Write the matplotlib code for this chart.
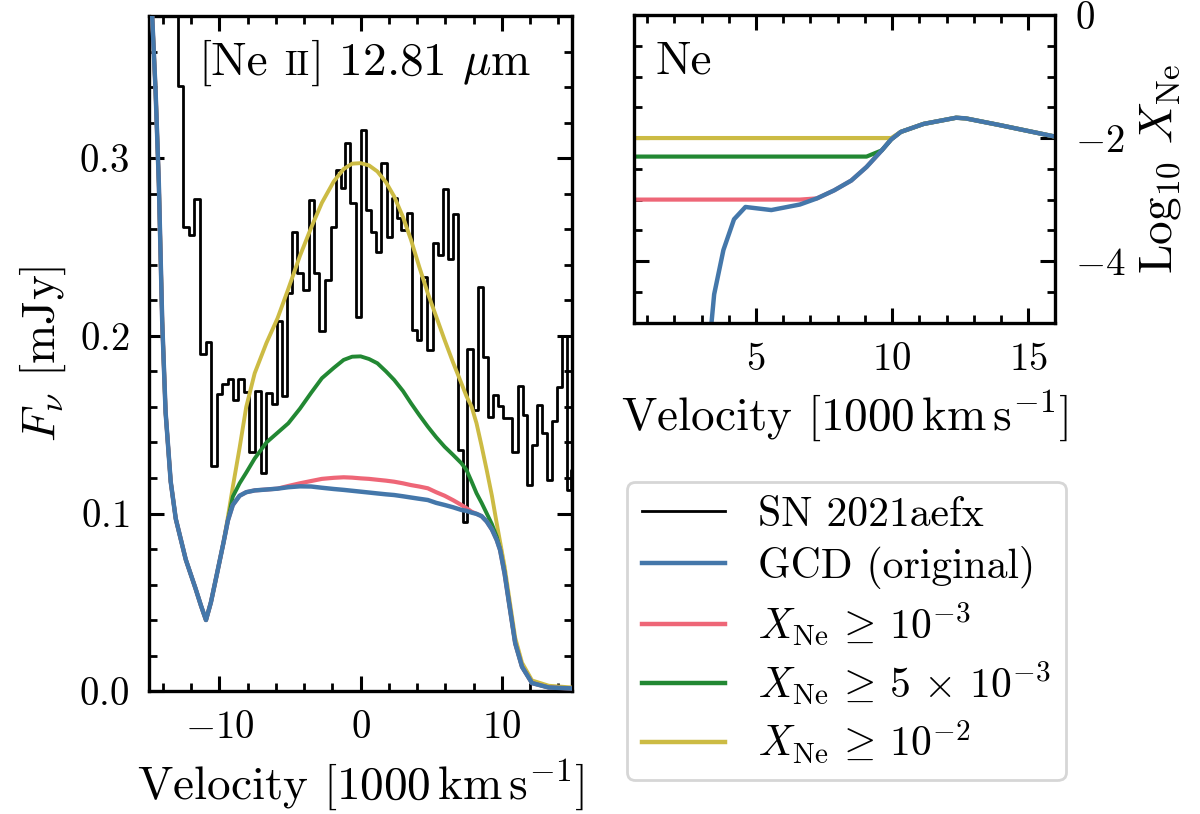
import numpy as np
import matplotlib
matplotlib.use('Agg')
import matplotlib.pyplot as plt
from matplotlib.ticker import MultipleLocator
from matplotlib.lines import Line2D

plt.rcParams.update({
	'font.family': 'serif',
	'font.serif': ['cmr10'],
	'mathtext.fontset': 'cm',
	'axes.formatter.use_mathtext': True,
	'axes.unicode_minus': True,
	'axes.linewidth': 1.2,
	'xtick.direction': 'in', 'ytick.direction': 'in',
	'xtick.top': True, 'ytick.right': True,
	'xtick.major.size': 5.5, 'ytick.major.size': 5.5,
	'xtick.minor.size': 3.0, 'ytick.minor.size': 3.0,
	'xtick.major.width': 1.1, 'ytick.major.width': 1.1,
	'xtick.minor.width': 1.0, 'ytick.minor.width': 1.0,
	'xtick.major.pad': 7, 'ytick.major.pad': 7,
	'xtick.labelsize': 14, 'ytick.labelsize': 14,
	'axes.labelsize': 17,
})

# observed spectrum (bin centres, 1000 km/s) and flux (mJy)
v_obs = [-15.31, -14.94, -14.57, -14.2, -13.83, -13.46, -13.09,
	-12.73, -12.36, -11.99, -11.58, -11.16, -10.76, -10.37, -9.99, -9.61, -9.23,
	-8.87, -8.48, -8.09, -7.69, -7.28, -6.87, -6.49, -6.11, -5.71, -5.38,
	-5.08, -4.69, -4.27, -3.89, -3.48, -3.12, -2.74, -2.29, -1.87, -1.55,
	-1.29, -0.93, -0.54, -0.14, 0.25, 0.57, 0.89, 1.28, 1.67, 2.06,
	2.42, 2.71, 3.07, 3.49, 3.81, 4.11, 4.46, 4.88, 5.32, 5.68,
	6.04, 6.39, 6.73, 7.06, 7.39, 7.75, 8.13, 8.49, 8.85, 9.2,
	9.56, 9.92, 10.23, 10.55, 10.92, 11.31, 11.64, 11.96, 12.32, 12.68,
	13.04, 13.39, 13.75, 14.11, 14.46, 14.79, 15.07, 15.4]
f_obs = [0.50, 0.53, 0.50, 0.44, 0.48, 0.45, 0.42,
	0.3405, 0.2611, 0.2566, 0.2772, 0.1899, 0.1963, 0.1265, 0.1673, 0.1730, 0.1758,
	0.1639, 0.1758, 0.1685, 0.1349, 0.1690, 0.1228, 0.1679, 0.1614, 0.2085, 0.1659,
	0.2241, 0.2583, 0.2355, 0.2259, 0.2766, 0.2355, 0.2028, 0.2315, 0.2614, 0.2935,
	0.2834, 0.3087, 0.2749, 0.2107, 0.3161, 0.2710, 0.2588, 0.2475, 0.2973, 0.2559,
	0.2776, 0.2663, 0.2597, 0.2691, 0.2034, 0.1977, 0.2334, 0.1921, 0.2522, 0.2456,
	0.2826, 0.2432, 0.2687, 0.1358, 0.0954, 0.1925, 0.1583, 0.2274, 0.1883, 0.1545,
	0.1668, 0.1606, 0.1536, 0.1536, 0.1348, 0.1718, 0.1555, 0.1161, 0.1386, 0.1611,
	0.1452, 0.1189, 0.1523, 0.1714, 0.2000, 0.1132, 0.1245, 0.118]

# model spectra on a common velocity grid
v_mod = [-15.0, -14.76, -14.52, -14.29, -14.05, -13.81, -13.45, -13.09, -12.38, -11.7,
	-11.3, -10.95, -10.6, -10.2, -9.7, -9.4, -9.05, -8.57, -8.1, -7.5,
	-6.67, -5.88, -5.12, -4.3, -3.5, -2.74, -1.9, -1.2, -0.6, 0.0,
	0.6, 1.19, 1.8, 2.38, 3.0, 3.57, 4.15, 4.76, 5.35, 5.95,
	6.55, 7.14, 7.5, 7.86, 8.21, 8.57, 8.93, 9.3, 9.64, 9.88,
	10.2, 10.48, 10.95, 11.43, 12.14, 13.33, 15.0]
f_gcd = [0.400, 0.380, 0.338, 0.286, 0.208, 0.157, 0.118, 0.097, 0.074, 0.058,
	0.048, 0.040, 0.050, 0.065, 0.084, 0.096, 0.1048, 0.110, 0.112, 0.113,
	0.1135, 0.114, 0.1148, 0.1153, 0.1152, 0.1145, 0.1138, 0.1133, 0.1128, 0.1123,
	0.1118, 0.1113, 0.1108, 0.1104, 0.1097, 0.109, 0.1083, 0.1076, 0.106, 0.1048,
	0.1035, 0.102, 0.1015, 0.1005, 0.0998, 0.0985, 0.0955, 0.091, 0.0851, 0.0794,
	0.066, 0.0513, 0.0269, 0.0137, 0.0045, 0.002, 0.0015]
f_1e3 = [0.400, 0.380, 0.338, 0.286, 0.208, 0.157, 0.118, 0.097, 0.074, 0.058,
	0.048, 0.040, 0.050, 0.065, 0.084, 0.096, 0.1048, 0.110, 0.112, 0.113,
	0.1135, 0.114, 0.1155, 0.117, 0.1183, 0.1195, 0.1201, 0.1204, 0.1202, 0.1198,
	0.1195, 0.119, 0.1185, 0.1179, 0.117, 0.116, 0.1152, 0.1142, 0.112, 0.110,
	0.1075, 0.1048, 0.103, 0.101, 0.0998, 0.0985, 0.0955, 0.091, 0.0851, 0.0794,
	0.066, 0.0513, 0.0269, 0.0137, 0.0045, 0.002, 0.0015]
f_5e3 = [0.400, 0.380, 0.338, 0.286, 0.208, 0.157, 0.118, 0.097, 0.074, 0.058,
	0.048, 0.040, 0.050, 0.065, 0.084, 0.096, 0.1095, 0.117, 0.123, 0.131,
	0.140, 0.1455, 0.1508, 0.159, 0.168, 0.1762, 0.182, 0.1865, 0.1883, 0.1885,
	0.187, 0.1846, 0.180, 0.1752, 0.169, 0.1621, 0.1555, 0.1489, 0.143, 0.1376,
	0.133, 0.1283, 0.1245, 0.118, 0.1114, 0.106, 0.1001, 0.094, 0.0869, 0.080,
	0.067, 0.0515, 0.027, 0.0138, 0.0046, 0.002, 0.0015]
f_1e2 = [0.400, 0.380, 0.338, 0.286, 0.208, 0.157, 0.118, 0.097, 0.074, 0.058,
	0.048, 0.040, 0.050, 0.065, 0.084, 0.098, 0.115, 0.137, 0.160, 0.179,
	0.196, 0.210, 0.2265, 0.245, 0.261, 0.275, 0.287, 0.294, 0.297, 0.2973,
	0.296, 0.2926, 0.2865, 0.2785, 0.267, 0.2541, 0.239, 0.224, 0.211, 0.1977,
	0.185, 0.1733, 0.166, 0.1602, 0.1508, 0.138, 0.1245, 0.110, 0.0945, 0.084,
	0.070, 0.055, 0.030, 0.016, 0.006, 0.003, 0.002]

# Ne abundance profile of the GCD model
v_ne = [3.30, 3.46, 3.80, 4.19, 4.61, 5.56, 6.61, 7.24, 7.87, 8.50,
	9.06, 9.62, 9.97, 10.32, 11.16, 12.35, 12.70, 13.96, 15.92, 16.5]
logx_ne = [-5.30, -4.54, -3.82, -3.32, -3.12, -3.17, -3.08, -2.98, -2.85, -2.69,
	-2.47, -2.20, -2.02, -1.90, -1.77, -1.67, -1.68, -1.79, -1.97, -2.02]
floors = [np.log10(1e-3), np.log10(5e-3), np.log10(1e-2)]

c_obs = 'k'
c_gcd = '#4477AA'
c_mod = ['#EE6677', '#228833', '#CCBB44']
labels = ['SN 2021aefx', 'GCD (original)', r'$X_{\mathrm{Ne}}\,\geq\,10^{-3}$',
	r'$X_{\mathrm{Ne}}\,\geq\,5\,\times\,10^{-3}$', r'$X_{\mathrm{Ne}}\,\geq\,10^{-2}$']

fig = plt.figure(figsize=(6, 4.07), dpi=200)
ax = fig.add_axes([0.124, 0.151, 0.353, 0.829])
ax2 = fig.add_axes([0.528, 0.6036, 0.3515, 0.378])

# left: spectrum
ax.step(v_obs, f_obs, where='mid', color=c_obs, lw=1.0, zorder=2)
ax.plot(v_mod, f_1e2, color=c_mod[2], lw=1.4, zorder=3)
ax.plot(v_mod, f_5e3, color=c_mod[1], lw=1.4, zorder=4)
ax.plot(v_mod, f_1e3, color=c_mod[0], lw=1.5, zorder=5)
ax.plot(v_mod, f_gcd, color=c_gcd, lw=1.6, zorder=6)
ax.set_xlim(-15, 15)
ax.set_ylim(0, 0.38)
ax.xaxis.set_major_locator(MultipleLocator(10))
ax.xaxis.set_minor_locator(MultipleLocator(2))
ax.yaxis.set_major_locator(MultipleLocator(0.1))
ax.yaxis.set_minor_locator(MultipleLocator(0.02))
ax.set_xlabel(r'Velocity $[1000\,\mathrm{km\,s^{-1}}]$')
ax.set_ylabel(r'$F_\nu$ [mJy]')

# right: abundance profile
v_fl = np.concatenate(([0.0], v_ne))
for thr, c in zip(floors, c_mod):
	ax2.plot(v_fl, np.maximum(np.concatenate(([-10.0], logx_ne)), thr), color=c, lw=1.5)
ax2.plot(v_ne, logx_ne, color=c_gcd, lw=1.6)
ax2.set_xlim(0.5, 16)
ax2.set_ylim(-5, 0)
ax2.xaxis.set_major_locator(MultipleLocator(5))
ax2.xaxis.set_minor_locator(MultipleLocator(1))
ax2.yaxis.set_major_locator(MultipleLocator(2))
ax2.yaxis.set_minor_locator(MultipleLocator(0.5))
ax2.tick_params(axis='y', which='both', left=True, right=True, labelleft=False, labelright=True)
ax2.yaxis.set_label_position('right')
ax2.set_xlabel(r'Velocity $[1000\,\mathrm{km\,s^{-1}}]$')
ax2.set_ylabel(r'Log$_{10}$ $X_{\mathrm{Ne}}$')
ax2.text(0.052, 0.81, 'Ne', transform=ax2.transAxes, fontsize=17)

# line name with small-caps ionisation stage
fig.canvas.draw()
rend = fig.canvas.get_renderer()
inv = ax.transAxes.inverted()
yb = 0.9126
t1 = ax.text(0.116, yb, '[Ne', transform=ax.transAxes, fontsize=17, va='baseline')
x1 = inv.transform((t1.get_window_extent(rend).x1, 0))[0]
t2 = ax.text(x1 + 0.038, yb, 'II', transform=ax.transAxes, fontsize=12.5, va='baseline')
x2 = inv.transform((t2.get_window_extent(rend).x1, 0))[0]
ax.text(x2 + 0.004, yb, r'] 12.81 $\mu$m', transform=ax.transAxes, fontsize=17, va='baseline')

handles = [Line2D([], [], color=c_obs, lw=1.0), Line2D([], [], color=c_gcd, lw=1.6)]
handles += [Line2D([], [], color=c, lw=1.6) for c in c_mod]
fig.legend(handles, labels, loc='upper left', bbox_to_anchor=(0.5225, 0.408),
	borderaxespad=0, fontsize=15, handlelength=2.0, handletextpad=0.8,
	labelspacing=0.28, borderpad=0.35)

plt.savefig('out.png', dpi=200)
